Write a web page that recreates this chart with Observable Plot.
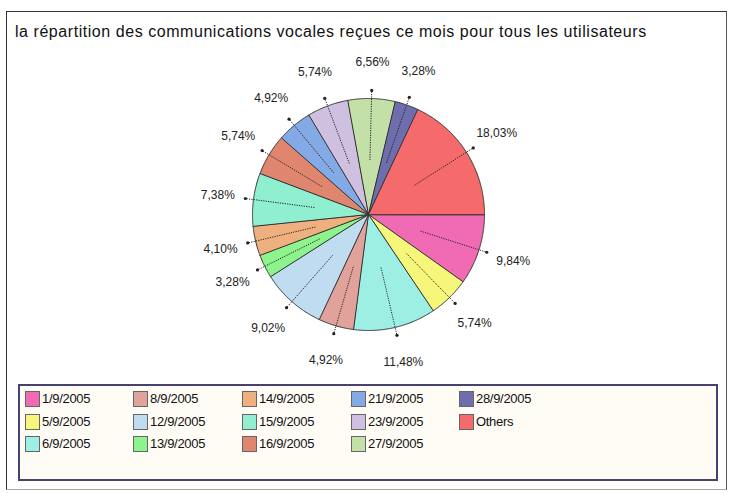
<!DOCTYPE html>
<html>
<head>
<meta charset="utf-8">
<script src="https://cdn.jsdelivr.net/npm/d3@7"></script>
<script src="https://cdn.jsdelivr.net/npm/@observablehq/plot@0.6"></script>
<style>
  html, body { margin: 0; padding: 0; background: #ffffff; width: 732px; height: 493px; overflow: hidden; }
  body { position: relative; font-family: "Liberation Sans", Arial, sans-serif; }
  #frame { position: absolute; left: 6px; top: 11px; width: 721px; height: 479px; border: 1px solid #333; border-bottom-color: #aaa; border-right-color: #555; box-sizing: border-box; background: #fff; }
  #title { position: absolute; left: 15px; top: 23px; font-size: 16px; line-height: 17px; letter-spacing: 0.55px; color: #111; white-space: nowrap; }
  #chart { position: absolute; left: 0; top: 48px; }
  #legend { position: absolute; left: 18px; top: 384px; width: 700px; height: 97px; box-sizing: border-box; border: 2px solid #45436f; background: #fffcf6; }
  .item { position: absolute; height: 16px; font-size: 13px; line-height: 16px; color: #111; white-space: nowrap; letter-spacing: -0.3px; }
  .sw { position: absolute; left: 0; top: 0; width: 15px; height: 16px; box-sizing: border-box; border: 1px solid #666; }
  .lab { position: absolute; left: 17px; top: 0; }
</style>
</head>
<body>
<div id="frame"></div>
<div id="title">la répartition des communications vocales reçues ce mois pour tous les utilisateurs</div>
<div id="chart"></div>
<div id="legend"></div>
<script>
// ---- data ----
const categories = ["1/9/2005","5/9/2005","6/9/2005","8/9/2005","12/9/2005","13/9/2005","14/9/2005","15/9/2005","16/9/2005","21/9/2005","23/9/2005","27/9/2005","28/9/2005","Others"];
const values = [9.84, 5.74, 11.48, 4.92, 9.02, 3.28, 4.10, 7.38, 5.74, 4.92, 5.74, 6.56, 3.28, 18.03];
const colors = ["#f06ab4","#f6f67a","#9eefe3","#e0a29a","#c0dcf0","#8df38d","#eeb07f","#8fefd0","#e0866f","#84aae6","#cfc0e0","#c2e0a8","#6e6eae","#f56b6b"];

// ---- geometry from values (unit radius, y up) ----
const W = 732, H = 332, CX = 368, CY = 166, R = 116;
const arcs = d3.pie().sort(null).value(d => d).startAngle(Math.PI / 2).endAngle(Math.PI / 2 + 2 * Math.PI)(values);
const slicePts = [];
const labels = [];
arcs.forEach((a, i) => {
  const cat = categories[i];
  slicePts.push({cat, x: 0, y: 0});
  const n = Math.max(2, Math.ceil((a.endAngle - a.startAngle) / (Math.PI / 360)));
  for (let k = 0; k <= n; k++) {
    const t = a.startAngle + (a.endAngle - a.startAngle) * k / n;
    slicePts.push({cat, x: Math.sin(t), y: Math.cos(t)});
  }
  const m = (a.startAngle + a.endAngle) / 2;
  labels.push({
    cat,
    text: values[i].toFixed(2).replace(".", ",") + "%",
    x1: 0.47 * Math.sin(m), y1: 0.47 * Math.cos(m),
    x2: 1.07 * Math.sin(m), y2: 1.07 * Math.cos(m),
    tx: 1.31 * Math.sin(m), ty: 1.31 * Math.cos(m)
  });
});

const plot = Plot.plot({
  width: W, height: H,
  margin: 0,
  x: {domain: [-CX / R, (W - CX) / R], axis: null},
  y: {domain: [-(H - CY) / R, CY / R], axis: null},
  color: {domain: categories, range: colors},
  style: {background: "transparent", fontFamily: "'Liberation Sans', Arial, sans-serif"},
  marks: [
    Plot.line(slicePts, {x: "x", y: "y", z: "cat", fill: "cat", stroke: "#333", strokeWidth: 1, curve: "linear-closed"}),
    Plot.link(labels, {x1: "x1", y1: "y1", x2: "x2", y2: "y2", stroke: "#222", strokeWidth: 1, strokeDasharray: "1.2,1.2"}),
    Plot.dot(labels, {x: "x2", y: "y2", r: 1.6, fill: "#222", stroke: null}),
    Plot.text(labels, {x: "tx", y: "ty", text: "text", fontSize: 12, fill: "#222"})
  ]
});
document.getElementById("chart").appendChild(plot);

// ---- legend (column-major, 3 rows) ----
const legend = document.getElementById("legend");
const colX = [25, 133, 242, 351, 459];
const rowY = [391, 414, 436];
categories.forEach((c, i) => {
  const col = Math.floor(i / 3), row = i % 3;
  const it = document.createElement("div");
  it.className = "item";
  it.style.left = (colX[col] - 20) + "px";
  it.style.top = (rowY[row] - 386) + "px";
  const sw = document.createElement("div");
  sw.className = "sw";
  sw.style.background = colors[i];
  const lab = document.createElement("div");
  lab.className = "lab";
  lab.textContent = c;
  it.appendChild(sw); it.appendChild(lab);
  legend.appendChild(it);
});
</script>
</body>
</html>
